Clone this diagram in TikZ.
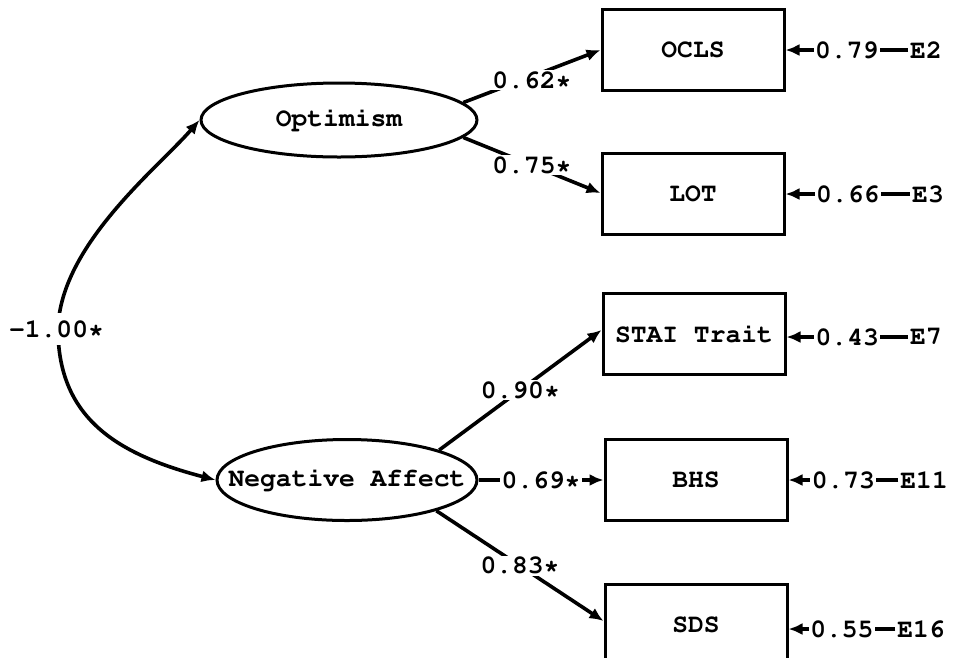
\documentclass[tikz,border=0pt]{standalone}
\usepackage[T1]{fontenc}
\usepackage{courier}
\usetikzlibrary{arrows.meta,shapes.geometric}
\begin{document}
\begin{tikzpicture}[x=1pt,y=-1pt,
  every node/.style={font=\fontsize{26.3}{30}\selectfont\ttfamily\bfseries},
  obs/.style={draw, line width=3pt, minimum width=182pt, minimum height=81pt, inner sep=0pt},
  lat/.style={draw, ellipse, line width=3pt, inner sep=0pt},
  lab/.style={fill=white, inner sep=1.5pt},
  err/.style={inner xsep=2pt, inner ysep=0pt, anchor=east},
  conn/.style={line width=3.6pt, -{Latex[length=14pt,width=12pt]}},
  cova/.style={line width=3.6pt, {Latex[length=14pt,width=12pt]}-{Latex[length=14pt,width=12pt]}}]
\useasboundingbox (0,0) rectangle (967,657);
\clip (0,0) rectangle (967,657);

% latent factors (text set in zero-width boxes so the ellipse keeps its own size)
\node[lat, minimum width=276pt, minimum height=74pt] (opt) at (339,120) {\makebox[0pt]{Optimism}};
\node[lat, minimum width=260pt, minimum height=81pt] (neg) at (347,480) {\makebox[0pt]{Negative Affect}};

% observed measures
\node[obs] (ocls) at (693,50)  {OCLS};
\node[obs] (lot)  at (693,194) {LOT};
\node[obs] (stai) at (694,334) {STAI Trait};
\node[obs] (bhs)  at (696,480) {BHS};
\node[obs] (sds)  at (696,625) {SDS};

% error terms
\node[err] (e2)  at (944,50)  {E2};
\node[err] (e3)  at (946,194) {E3};
\node[err] (e7)  at (944,337) {E7};
\node[err] (e11) at (950,480) {E11};
\node[err] (e16) at (947,629) {E16};

% factor loadings
\draw[conn] (opt.8)   -- node[lab, yshift=-4pt] (l62) {0.62*} (ocls.west);
\draw[conn] (opt.-8)  -- node[lab] (l75) {0.75*} ([yshift=1pt]lot.west);
\draw[conn] (neg.18)  -- node[lab] (l90) {0.90*} ([yshift=4pt]stai.west);
\draw[conn] (neg.east) -- node[lab] (l69) {0.69*} (bhs.west);
\draw[conn] (neg.-19) -- node[lab] (l83) {0.83*} ([yshift=4pt]sds.west);

% error paths
\draw[conn] (e2)  -- node[lab] (r79) {0.79} (ocls);
\draw[conn] (e3)  -- node[lab] (r66) {0.66} (lot);
\draw[conn] (e7)  -- node[lab] (r43) {0.43} (stai.east |- e7);
\draw[conn] (e11) -- node[lab] (r73) {0.73} (bhs);
\draw[conn] (e16) -- node[lab] (r55) {0.55} (sds.east |- e16);

% factor covariance
\draw[cova] (opt.west) .. controls (159,167) and (60,245) .. (58,329) coordinate (cv)
  .. controls (58,420) and (120,455) .. (neg.west);
\node[lab, inner ysep=7pt, xshift=-1.5pt] (cov) at (cv) {-1.00*};
\end{tikzpicture}
\end{document}
